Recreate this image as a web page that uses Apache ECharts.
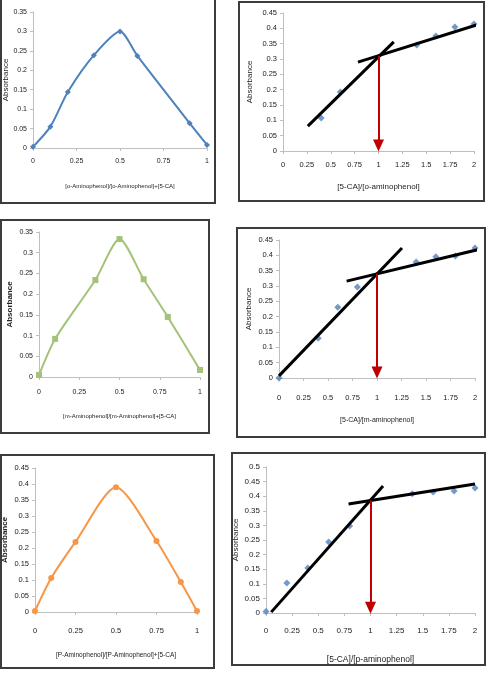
<!DOCTYPE html>
<html>
<head>
<meta charset="utf-8">
<script src="https://cdn.jsdelivr.net/npm/echarts@6/dist/echarts.min.js"></script>
<style>
  html, body { margin: 0; padding: 0; background: #fff; }
  #main { width: 487px; height: 675px; }
</style>
</head>
<body>
<div id="main"></div>
<script>
// Job's method (continuous variation) data
var jobX1 = [0, 0.1, 0.2, 0.35, 0.5, 0.6, 0.9, 1];
var jobY1 = [0.003, 0.055, 0.144, 0.239, 0.3, 0.237, 0.064, 0.008];
var jobX2 = [0, 0.1, 0.35, 0.5, 0.65, 0.8, 1];
var jobY2 = [0.005, 0.092, 0.234, 0.333, 0.236, 0.145, 0.017];
var jobX3 = [0, 0.1, 0.25, 0.5, 0.75, 0.9, 1];
var jobY3 = [0.003, 0.106, 0.219, 0.39, 0.222, 0.094, 0.003];

// mole ratio data
var moleX1 = [0.4, 0.6, 1.4, 1.6, 1.8, 2];
var moleY1 = [0.108, 0.192, 0.346, 0.375, 0.404, 0.414];
var moleX2 = [0, 0.4, 0.6, 0.8, 1.4, 1.6, 1.8, 2];
var moleY2 = [0, 0.13, 0.231, 0.297, 0.378, 0.395, 0.398, 0.424];
var moleX3 = [0, 0.2, 0.4, 0.6, 0.8, 1.4, 1.6, 1.8, 2];
var moleY3 = [0.005, 0.103, 0.154, 0.243, 0.298, 0.408, 0.414, 0.418, 0.428];

// hand drawn fit lines and the arrow top (y at ratio 1)
var fit1a = [[0.26, 0.081], [1.16, 0.356]];
var fit1b = [[0.785, 0.29], [2.12, 0.42]];
var fit2a = [[0, 0.007], [1.255, 0.424]];
var fit2b = [[0.69, 0.316], [2.1, 0.424]];
var fit3a = [[0.05, 0.003], [1.12, 0.435]];
var fit3b = [[0.79, 0.373], [2.0, 0.442]];
var arrowTop = [0.31, 0.34, 0.385];

var xNames = [
    '[o-Aminophenol]/[o-Aminophenol]+[5-CA]',
    '[5-CA]/[o-aminophenol]',
    '[m-Aminophenol]/[m-Aminophenol]+[5-CA]',
    '[5-CA]/[m-aminophenol]',
    '[P-Aminophenol]/[P-Aminophenol]+[5-CA]',
    '[5-CA]/[p-aminophenol]'
];

var FONT = 'Liberation Sans';
var BLUE = '#4F81BD', GREEN = '#A5C27A', ORANGE = '#F79646', RED = '#C00000';

function zip(xs, ys) {
    return xs.map(function (x, i) { return [x, ys[i]]; });
}

var grids = [
    { left: 33, top: 12, width: 174, height: 136 },
    { left: 283, top: 13, width: 191, height: 138 },
    { left: 39, top: 232, width: 161, height: 145 },
    { left: 279, top: 240, width: 196, height: 138 },
    { left: 34, top: 468, width: 163, height: 144 },
    { left: 266, top: 467, width: 209, height: 146 }
];

// per panel axis settings
var xMax = [1, 2, 1, 2, 1, 2];
var yMax = [0.35, 0.45, 0.35, 0.45, 0.45, 0.5];
var xNameGap = [35, 32, 36, 39, 40, 42];
var xNameSize = [6, 8, 6, 7, 6.5, 8.5];
var xLabelMargin = [10, 10, 12, 16, 15, 14];
var yNameGap = [20, 29, 25, 26, 26, 26];
var tickSize = [7, 7.5, 7, 7.5, 7.5, 8];

var xAxes = grids.map(function (g, i) {
    return {
        gridIndex: i, type: 'value', min: 0, max: xMax[i], interval: 0.25,
        name: xNames[i], nameLocation: 'middle', nameGap: xNameGap[i],
        nameTextStyle: { color: '#222', fontSize: xNameSize[i], fontFamily: FONT },
        axisLine: { show: true, lineStyle: { color: '#BFBFBF', width: 1 } },
        axisTick: { show: true, length: 3, lineStyle: { color: '#BFBFBF' } },
        axisLabel: { color: '#222', fontSize: tickSize[i], fontFamily: FONT, margin: xLabelMargin[i] },
        splitLine: { show: false }
    };
});

var yAxes = grids.map(function (g, i) {
    return {
        gridIndex: i, type: 'value', min: 0, max: yMax[i], interval: 0.05,
        name: 'Absorbance', nameLocation: 'middle', nameGap: yNameGap[i], nameRotate: 90,
        nameTextStyle: { color: '#222', fontSize: 8, fontFamily: FONT, fontWeight: (i === 2 || i === 4) ? 'bold' : 'normal' },
        axisLine: { show: true, lineStyle: { color: '#BFBFBF', width: 1 } },
        axisTick: { show: true, length: 3, lineStyle: { color: '#BFBFBF' } },
        axisLabel: { color: '#222', fontSize: tickSize[i], fontFamily: FONT, margin: 6 },
        splitLine: { show: false }
    };
});

function jobSeries(idx, data, color, symbol) {
    return {
        type: 'line', xAxisIndex: idx, yAxisIndex: idx, data: data,
        smooth: 0.25, symbol: symbol, symbolSize: 6,
        lineStyle: { color: color, width: 2 },
        itemStyle: { color: color }
    };
}

function moleSeries(idx, data, top) {
    return {
        type: 'scatter', xAxisIndex: idx, yAxisIndex: idx, data: data,
        symbol: 'diamond', symbolSize: 7, itemStyle: { color: BLUE },
        markLine: {
            silent: true, symbol: ['none', 'triangle'], symbolSize: [11, 12],
            label: { show: false },
            lineStyle: { color: RED, width: 2, type: 'solid' },
            data: [[{ coord: [1, top] }, { coord: [1, 0.018] }]]
        }
    };
}

function fitSeries(idx, data) {
    return {
        type: 'line', xAxisIndex: idx, yAxisIndex: idx, data: data,
        symbol: 'none', clip: false, z: 3,
        lineStyle: { color: '#000', width: 3 }
    };
}

// panel frames
var frames = [
    [1, -2, 214, 205],
    [239, 2, 245, 199],
    [1, 220, 208, 213],
    [237, 228, 248, 209],
    [1, 455, 213, 213],
    [232, 453, 253, 212]
];

var chart = echarts.init(document.getElementById('main'), null, { renderer: 'canvas' });
chart.setOption({
    backgroundColor: '#fff',
    animation: false,
    graphic: frames.map(function (f) {
        return {
            type: 'rect', shape: { x: f[0], y: f[1], width: f[2], height: f[3] },
            style: { fill: 'none', stroke: '#3C3C3C', lineWidth: 2 }, z: 0
        };
    }),
    grid: grids,
    xAxis: xAxes,
    yAxis: yAxes,
    series: [
        jobSeries(0, zip(jobX1, jobY1), BLUE, 'diamond'),
        moleSeries(1, zip(moleX1, moleY1), arrowTop[0]),
        fitSeries(1, fit1a),
        fitSeries(1, fit1b),
        jobSeries(2, zip(jobX2, jobY2), GREEN, 'rect'),
        moleSeries(3, zip(moleX2, moleY2), arrowTop[1]),
        fitSeries(3, fit2a),
        fitSeries(3, fit2b),
        jobSeries(4, zip(jobX3, jobY3), ORANGE, 'circle'),
        moleSeries(5, zip(moleX3, moleY3), arrowTop[2]),
        fitSeries(5, fit3a),
        fitSeries(5, fit3b)
    ]
});
</script>
</body>
</html>
